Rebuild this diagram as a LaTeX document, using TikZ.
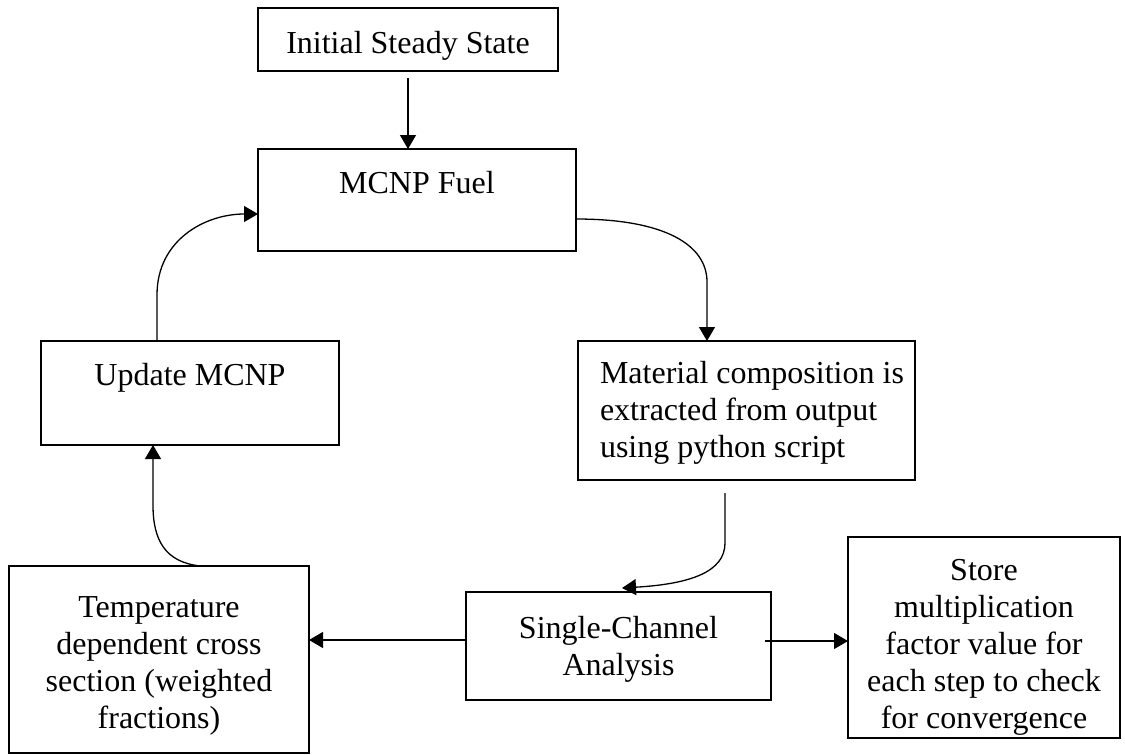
\documentclass[tikz,border=0pt]{standalone}
\usepackage{fontspec}
\setmainfont{Liberation Serif}
\usetikzlibrary{arrows.meta}
\newcommand{\bxt}[4]{\parbox[c][#2][t]{#1}{\vspace*{#3}\centering\strut #4}}
\newcommand{\bxl}[4]{\parbox[c][#2][t]{#1}{\vspace*{#3}\raggedright\leftskip=22pt\strut #4}}
\begin{document}
\begin{tikzpicture}[x=1pt,y=-1pt,
  blk/.style={draw, line width=2.6pt, inner sep=0pt, outer sep=0pt},
  arr/.style={line width=1.3pt, -{Triangle[length=14pt,width=16pt]}},
  every node/.style={font=\fontsize{32}{37}\selectfont}]
\useasboundingbox (0,0) rectangle (1125,755);
\node[blk] (top) at (408,39.5) {\bxt{300pt}{63pt}{19.6pt}{Initial Steady State}};
\node[blk] (mcnp) at (417,200) {\bxt{318pt}{102pt}{18.6pt}{MCNP Fuel}};
\node[blk] (mat) at (746.5,410.5) {\bxl{337pt}{139pt}{16.6pt}{Material composition is\\extracted from output\\using python script}};
\node[blk] (upd) at (190,393) {\bxt{298pt}{104pt}{18.6pt}{Update MCNP}};
\node[blk] (temp) at (159,659.5) {\bxt{300pt}{187pt}{25.6pt}{Temperature\\dependent cross\\section (weighted\\fractions)}};
\node[blk] (sca) at (618.5,646) {\bxt{305pt}{108pt}{20.6pt}{Single-Channel\\Analysis}};
\node[blk] (store) at (984,637.5) {\bxt{272pt}{201pt}{17.6pt}{Store\\multiplication\\factor value for\\each step to check\\for convergence}};
% connectors
\coordinate (t1) at ([yshift=-7pt]top.south);
\draw[arr] (t1) -- (t1 |- mcnp.north);
\coordinate (m1) at ([yshift=-19pt]mcnp.east);
\coordinate (m2) at ([xshift=-39.5pt]mat.north);
\draw[arr] (m1) .. controls (665,219) and (707,245) .. (707,282) -- (m2);
\coordinate (a1) at ([xshift=-21.5pt,yshift=-13pt]mat.south);
\coordinate (a2) at ([xshift=3.5pt,yshift=4pt]sca.north);
\draw[arr] (a1) -- (725,543) .. controls (725,572) and (690,584) .. (a2);
\coordinate (s1) at ([yshift=6pt]sca.west);
\draw[arr] (s1) -- (s1 -| temp.east);
\coordinate (s2) at ([xshift=-6pt,yshift=5pt]sca.east);
\draw[arr] (s2) -- (s2 -| store.west);
\coordinate (c1) at ([xshift=41pt]temp.north);
\coordinate (c2) at ([xshift=-37pt]upd.south);
\draw[arr] (c1) .. controls (165,562) and (153,540) .. (153,505) -- (c2);
\coordinate (u1) at ([xshift=-33pt]upd.north);
\coordinate (u2) at ([yshift=-14pt]mcnp.west);
\draw[arr] (u1) -- (157,295) .. controls (157,240) and (205,214) .. (u2);
\end{tikzpicture}
\end{document}
